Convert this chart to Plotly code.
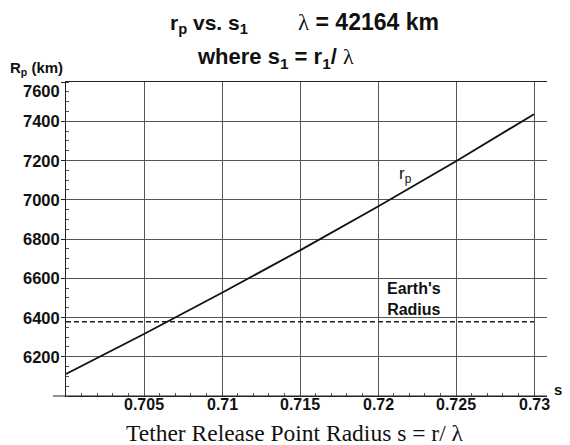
import plotly.graph_objects as go

# ---- data ----
s_vals = [0.700, 0.705, 0.710, 0.715, 0.720, 0.725, 0.730]
rp_vals = [6112, 6316, 6526, 6742, 6966, 7196, 7436]
earth_radius = 6378
earth_s = [0.700, 0.730]

x_tickvals = [0.705, 0.71, 0.715, 0.72, 0.725, 0.73]
x_ticktext = ["0.705", "0.71", "0.715", "0.72", "0.725", "0.73"]
y_tickvals = [6200, 6400, 6600, 6800, 7000, 7200, 7400, 7600]
y_ticktext = ["6200", "6400", "6600", "6800", "7000", "7200", "7400", "7600"]

# the page body has a default 8px margin: the figure is placed at (8, 8)
OFF = 8
W, H = 570 - OFF, 445 - OFF
# plot area in page pixels: x 66..547, y 82..396
L, R, T, B = 66 - OFF, 570 - 547, 82 - OFF, 445 - 396
PW, PH = W - L - R, H - T - B


def px(x):
    """page x pixel -> paper coordinate"""
    return (x - OFF - L) / PW


def py(y):
    """page y pixel -> paper coordinate"""
    return (H - B - (y - OFF)) / PH


SANS = "Liberation Sans, Arial, sans-serif"
SERIF = "Liberation Serif, Times New Roman, serif"
GRID = "#555555"
INK = "#111111"

fig = go.Figure()
fig.add_trace(go.Scatter(
    x=earth_s, y=[earth_radius, earth_radius], mode="lines",
    line=dict(color="#222222", width=1.6, dash="5px,3px"),
    showlegend=False, hoverinfo="skip"))
fig.add_trace(go.Scatter(
    x=s_vals, y=rp_vals, mode="lines",
    line=dict(color=INK, width=1.8),
    showlegend=False))

fig.update_layout(
    width=W, height=H,
    margin=dict(l=L, r=R, t=T, b=B, pad=0, autoexpand=False),
    paper_bgcolor="white", plot_bgcolor="white",
    showlegend=False,
    xaxis=dict(
        range=[0.700, 0.700 + PW / 78 * 0.005],
        tickmode="array", tickvals=x_tickvals, ticktext=x_ticktext,
        showticklabels=False,
        showgrid=True, gridcolor=GRID, gridwidth=1,
        showline=True, linecolor="#222222", linewidth=1.2, mirror=True,
        ticks="inside", ticklen=3, tickcolor=GRID,
        minor=dict(ticks="inside", dtick=0.001, tick0=0.700, ticklen=3,
                   tickcolor=GRID, showgrid=False),
        zeroline=False, fixedrange=True, automargin=False,
    ),
    yaxis=dict(
        range=[6000, 7600],
        tickmode="array", tickvals=y_tickvals, ticktext=y_ticktext,
        showticklabels=False,
        showgrid=True, gridcolor=GRID, gridwidth=1,
        showline=True, linecolor="#222222", linewidth=1.2,
        ticks="outside", ticklen=4, tickcolor="#222222",
        minor=dict(ticks="inside", dtick=50, tick0=6000, ticklen=3,
                   tickcolor=GRID, showgrid=False),
        zeroline=False, fixedrange=True, automargin=False,
    ),
)

# x-axis line extends a little left of the y-axis
fig.add_shape(type="line", xref="paper", yref="paper",
              x0=px(53), x1=1, y0=0, y1=0,
              line=dict(color="#222222", width=1.2))

ann = []
# y tick labels (top one nudged down, as in the reference)
top_val = max(y_tickvals)
for v, t in zip(y_tickvals, y_ticktext):
    ann.append(dict(text="<b>" + t + "</b>", x=px(62), xref="paper",
                    y=v, yref="y", xanchor="right", yanchor="middle",
                    yshift=-9 if v == top_val else 0,
                    font=dict(family=SANS, size=16.5, color=INK)))
# x tick labels
for v, t in zip(x_tickvals, x_ticktext):
    ann.append(dict(text="<b>" + t + "</b>", x=v, xref="x",
                    y=py(404), yref="paper", xanchor="center", yanchor="middle",
                    font=dict(family=SANS, size=16, color=INK)))

LAM = "<span style=\"font-family:Liberation Serif;font-weight:normal\">λ</span>"
ann.append(dict(text="<b>r<sub>p</sub> vs. s<sub>1</sub></b>",
                x=px(168), y=py(24), xanchor="left", yanchor="middle",
                font=dict(family=SANS, size=21, color=INK)))
ann.append(dict(text="<b>" + LAM + " = 42164 km</b>",
                x=px(296), y=py(22), xanchor="left", yanchor="middle",
                font=dict(family=SANS, size=23, color=INK)))
ann.append(dict(text="<b>where s<sub>1</sub> = r<sub>1</sub>/ " + LAM + "</b>",
                x=px(275.5), y=py(58), xanchor="center", yanchor="middle",
                font=dict(family=SANS, size=22, color=INK)))
ann.append(dict(text="<b>R<sub>p</sub> (km)</b>",
                x=px(8), y=py(69), xanchor="left", yanchor="middle",
                font=dict(family=SANS, size=15, color=INK)))
ann.append(dict(text="<b>s<sub>1</sub></b>",
                x=px(552), y=py(390), xanchor="left", yanchor="middle",
                font=dict(family=SANS, size=15, color=INK)))
ann.append(dict(text="Tether Release Point Radius s = r/ λ",
                x=px(295), y=py(433), xanchor="center", yanchor="middle",
                font=dict(family=SERIF, size=23.5, color=INK)))
ann.append(dict(text="<b>Earth's<br>Radius</b>",
                x=px(414), y=py(299), xanchor="center", yanchor="middle",
                font=dict(family=SANS, size=16, color=INK)))
ann.append(dict(text="r<sub>p</sub>",
                x=px(405), y=py(175), xanchor="center", yanchor="middle",
                font=dict(family=SANS, size=17, color=INK)))

for a in ann:
    a.setdefault("xref", "paper")
    a.setdefault("yref", "paper")
    a["showarrow"] = False
fig.update_layout(annotations=ann)

fig.write_html("out.html")
